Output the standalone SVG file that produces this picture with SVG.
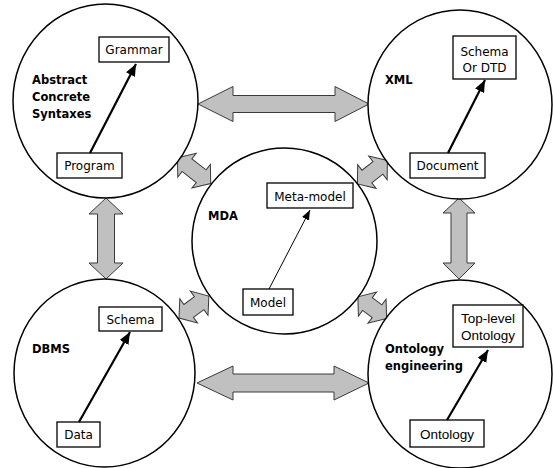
<svg xmlns="http://www.w3.org/2000/svg" width="553" height="468" viewBox="0 0 553 468">
  <style>
    .ring { fill: #ffffff; stroke: #000000; stroke-width: 1.5; }
    .box { fill: #ffffff; stroke: #000000; stroke-width: 1.3; }
    .link { fill: #c0c0c0; stroke: #3a3a3a; stroke-width: 1; stroke-linejoin: miter; }
    .t { font-family: "DejaVu Sans", "Liberation Sans", sans-serif; font-size: 12px; fill: #000000; }
    .title { font-family: "DejaVu Sans", "Liberation Sans", sans-serif; font-size: 11.5px; font-weight: bold; fill: #000000; }
    .s { font-family: "Liberation Sans", Arial, sans-serif; font-size: 13.5px; fill: #000000; }
    .conf { stroke: #000000; stroke-width: 2.2; fill: none; marker-end: url(#head); }
    .conf-thin { stroke: #000000; stroke-width: 1; fill: none; marker-end: url(#headThin); }
  </style>
  <defs>
    <marker id="head" markerUnits="userSpaceOnUse" markerWidth="13" markerHeight="11" refX="12" refY="5" orient="auto">
      <path d="M0,0 L12,5 L0,10 z" fill="#000000"/>
    </marker>
    <marker id="headThin" markerUnits="userSpaceOnUse" markerWidth="11" markerHeight="9" refX="10" refY="4" orient="auto">
      <path d="M0,0 L10,4 L0,8 z" fill="#000000"/>
    </marker>
  </defs>

  <rect width="553" height="468" fill="#ffffff"/>

  <!-- wide two-way links between the domains -->
  <g id="connectors">
    <path class="link" d="M198,104 L233,86.5 L233,95.5 L335,95.5 L335,86.5 L369,104 L335,121.5 L335,112.5 L233,112.5 L233,121.5 Z"/>
    <path class="link" d="M197,383 L233,366 L233,374 L334,374 L334,366 L369,383 L334,400 L334,392 L233,392 L233,400 Z"/>
    <path class="link" d="M106,198 L123,214 L114.5,214 L114.5,263 L123,263 L106,279 L89,263 L97.5,263 L97.5,214 L89,214 Z"/>
    <path class="link" d="M459,198 L475,213 L467,213 L467,263 L475,263 L459,279 L443,263 L451,263 L451,213 L443,213 Z"/>
    <path class="link" transform="translate(177.5,157.8) rotate(37.85)" d="M0,0 L12,-15 L12,-8 L30,-8 L30,-15 L42,0 L30,15 L30,8 L12,8 L12,15 Z"/>
    <path class="link" transform="translate(387.4,160.5) rotate(142.05)" d="M0,0 L12,-15 L12,-8 L26,-8 L26,-15 L38,0 L26,15 L26,8 L12,8 L12,15 Z"/>
    <path class="link" transform="translate(179,318) rotate(-36.25)" d="M0,0 L12,-15 L12,-8 L25,-8 L25,-15 L37,0 L25,15 L25,8 L12,8 L12,15 Z"/>
    <path class="link" transform="translate(386.6,318.5) rotate(-142.9)" d="M0,0 L12,-15 L12,-8 L24,-8 L24,-15 L36,0 L24,15 L24,8 L12,8 L12,15 Z"/>
  </g>

  <!-- Abstract / concrete syntaxes -->
  <g id="syntaxes">
    <ellipse class="ring" cx="105.5" cy="101" rx="92.5" ry="97"/>
    <text class="title" x="32" y="84">Abstract</text>
    <text class="title" x="32" y="101">Concrete</text>
    <text class="title" x="32" y="118">Syntaxes</text>
    <rect class="box" x="99" y="37" width="70" height="25"/>
    <text class="t" x="134" y="54" text-anchor="middle">Grammar</text>
    <rect class="box" x="57" y="153" width="65" height="25"/>
    <text class="t" x="89.5" y="170" text-anchor="middle">Program</text>
    <line class="conf" x1="90" y1="153" x2="136" y2="64"/>
  </g>

  <!-- XML -->
  <g id="xml">
    <ellipse class="ring" cx="460" cy="104.5" rx="92" ry="94.5"/>
    <text class="title" x="385" y="84">XML</text>
    <rect class="box" x="453" y="36" width="63" height="43"/>
    <text class="t" x="484.5" y="56" text-anchor="middle">Schema</text>
    <text class="t" x="484.5" y="72" text-anchor="middle">Or DTD</text>
    <rect class="box" x="410" y="153" width="75" height="25"/>
    <text class="t" x="447.5" y="170" text-anchor="middle">Document</text>
    <line class="conf" x1="448" y1="153" x2="485" y2="80"/>
  </g>

  <!-- MDA -->
  <g id="mda">
    <ellipse class="ring" cx="284.5" cy="241" rx="92.5" ry="93"/>
    <text class="title" x="208" y="220">MDA</text>
    <rect class="box" x="267" y="183" width="86" height="25"/>
    <text class="t" x="310" y="201" text-anchor="middle">Meta-model</text>
    <rect class="box" x="243" y="289" width="50" height="26"/>
    <text class="t" x="268" y="307" text-anchor="middle">Model</text>
    <line class="conf-thin" x1="269" y1="289" x2="310" y2="210"/>
  </g>

  <!-- DBMS -->
  <g id="dbms">
    <ellipse class="ring" cx="104.5" cy="373" rx="90.5" ry="94"/>
    <text class="title" x="32" y="353">DBMS</text>
    <rect class="box" x="99" y="307" width="63" height="24"/>
    <text class="t" x="130.5" y="324" text-anchor="middle">Schema</text>
    <rect class="box" x="57" y="422" width="43" height="25"/>
    <text class="t" x="78.5" y="439" text-anchor="middle">Data</text>
    <line class="conf" x1="79" y1="422" x2="130" y2="332"/>
  </g>

  <!-- Ontology engineering -->
  <g id="ontology">
    <ellipse class="ring" cx="460" cy="374" rx="92" ry="94"/>
    <text class="title" x="385" y="353">Ontology</text>
    <text class="title" x="385" y="370">engineering</text>
    <rect class="box" x="453" y="305" width="70" height="42"/>
    <text class="s" x="488" y="323" text-anchor="middle">Top-level</text>
    <text class="s" x="488" y="340" text-anchor="middle">Ontology</text>
    <rect class="box" x="410" y="420" width="74" height="27"/>
    <text class="s" x="447" y="439" text-anchor="middle" font-size="14">Ontology</text>
    <line class="conf" x1="447" y1="420" x2="488" y2="350"/>
  </g>
</svg>
